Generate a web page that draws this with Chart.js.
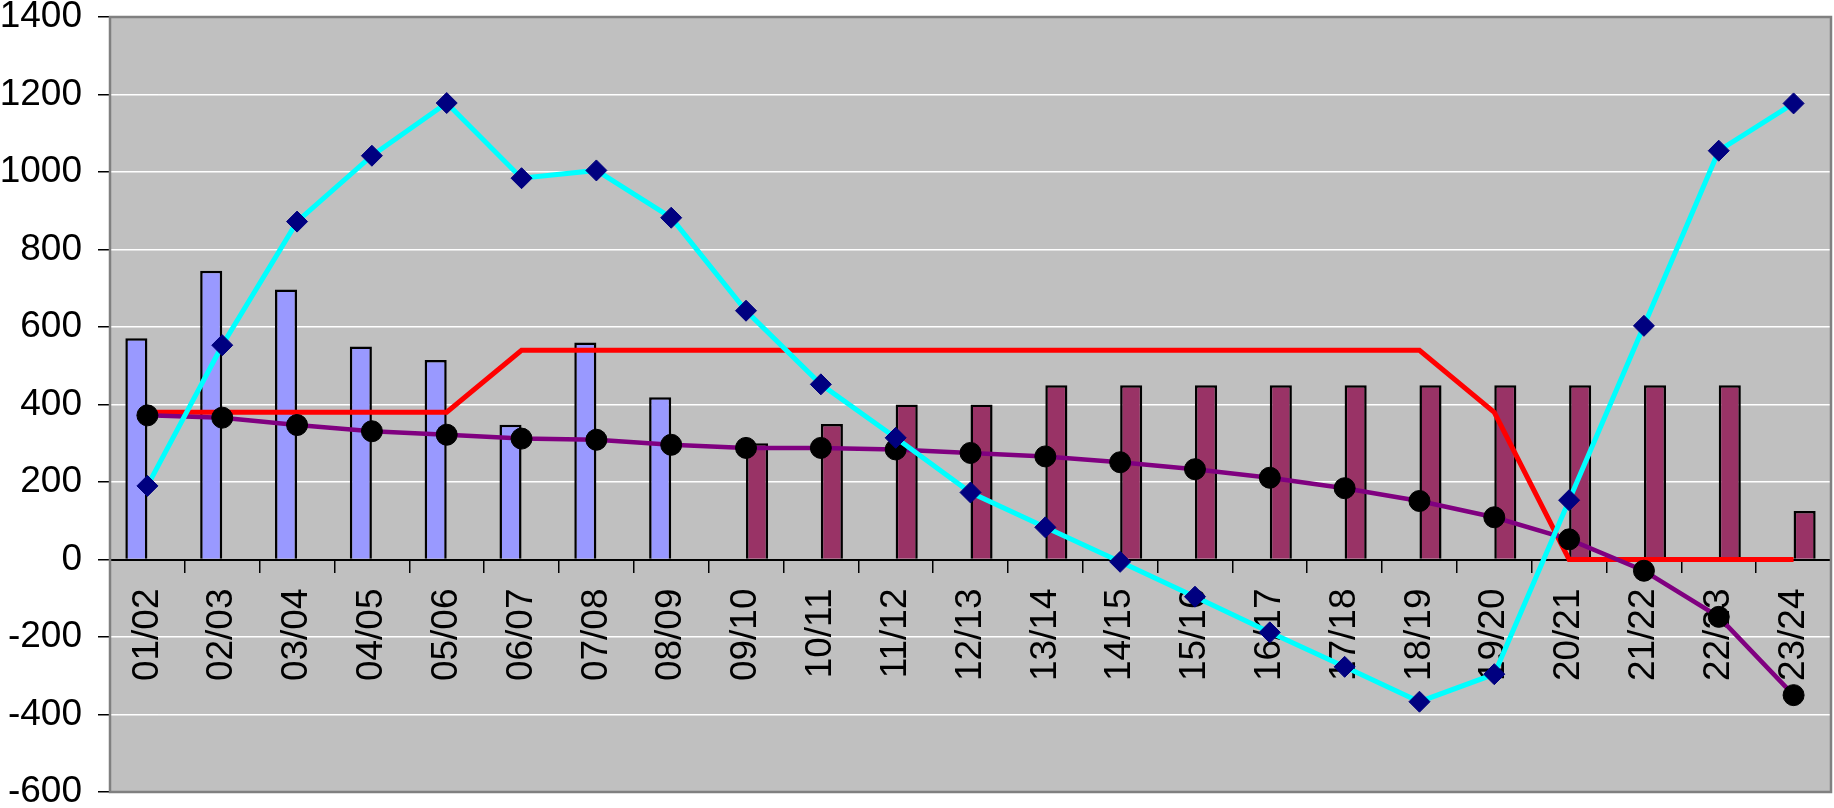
<!DOCTYPE html>
<html>
<head>
<meta charset="utf-8">
<script src="https://cdn.jsdelivr.net/npm/chart.js@4/dist/chart.umd.min.js"></script>
<style>
  html, body { margin: 0; padding: 0; background: #ffffff; overflow: hidden; width: 1834px; height: 808px; }
  #wrap { width: 1834px; height: 808px; overflow: hidden; }
  canvas { display: block; }
</style>
</head>
<body>
<div id="wrap"><canvas id="c" width="1834" height="808"></canvas></div>
<script>
const categories = ['01/02','02/03','03/04','04/05','05/06','06/07','07/08','08/09','09/10','10/11','11/12','12/13','13/14','14/15','15/16','16/17','17/18','18/19','19/20','20/21','21/22','22/23','23/24'];
const blueBars   = [571, 745, 697, 550, 515, 348, 560, 419, null, null, null, null, null, null, null, null, null, null, null, null, null, null, null];
const maroonBars = [null, null, null, null, null, null, null, null, 300, 350, 400, 400, 450, 450, 450, 450, 450, 450, 450, 450, 450, 450, 125];
const redLine    = [380, 380, 380, 380, 380, 540, 540, 540, 540, 540, 540, 540, 540, 540, 540, 540, 540, 540, 380, 0, 0, 0, 0];
const cyanLine   = [190, 553, 872, 1042, 1178, 984, 1004, 882, 642, 452, 314, 173, 83, -6, -96, -188, -277, -367, -296, 153, 603, 1055, 1177];
const purpleLine = [372, 366, 347, 331, 322, 312, 309, 296, 288, 288, 284, 275, 266, 251, 233, 211, 184, 151, 109, 52, -29, -148, -350];
const yMin = -600, yMax = 1400, yStep = 200;

const plotBg = {
  id: 'plotBg',
  beforeDraw(chart) {
    const a = chart.chartArea, ctx = chart.ctx;
    ctx.save();
    ctx.fillStyle = '#C0C0C0';
    ctx.fillRect(a.left, a.top, a.right - a.left, a.bottom - a.top);
    ctx.restore();
  },
  beforeDatasetsDraw(chart) {
    const a = chart.chartArea, ctx = chart.ctx;
    ctx.save();
    ctx.strokeStyle = '#808080';
    ctx.lineWidth = 2.5;
    ctx.strokeRect(a.left, a.top, a.right - a.left, a.bottom - a.top);
    ctx.restore();
  }
};

const fontFam = '"Liberation Sans", Arial, sans-serif';

new Chart(document.getElementById('c'), {
  data: {
    labels: categories,
    datasets: [
      { type: 'line', data: cyanLine, borderColor: '#00FFFF', borderWidth: 5, pointStyle: 'rectRot', pointRadius: 10.5, pointBackgroundColor: '#000080', pointBorderColor: '#000080', pointBorderWidth: 1, tension: 0, order: 1 },
      { type: 'line', data: purpleLine, borderColor: '#800080', borderWidth: 4.5, pointStyle: 'circle', pointRadius: 10.5, pointBackgroundColor: '#000000', pointBorderColor: '#000000', pointBorderWidth: 1, tension: 0, order: 2 },
      { type: 'line', data: redLine, borderColor: '#FF0000', borderWidth: 5, pointRadius: 0, tension: 0, order: 3 },
      { type: 'bar', data: blueBars, backgroundColor: '#9999FF', borderColor: '#000000', borderWidth: 2.5, categoryPercentage: 0.59, barPercentage: 1.0, order: 4 },
      { type: 'bar', data: maroonBars, backgroundColor: '#993366', borderColor: '#000000', borderWidth: 2.5, categoryPercentage: 0.59, barPercentage: 1.0, order: 5 }
    ]
  },
  options: {
    responsive: false,
    animation: false,
    layout: { autoPadding: false, padding: { top: 17, bottom: 16, right: 3, left: 0 } },
    plugins: { legend: { display: false }, tooltip: { enabled: false } },
    scales: {
      x: {
        type: 'category',
        position: { y: 0 },
        offset: true,
        afterFit(scale) { scale.paddingLeft = 0; scale.paddingRight = 0; },
        grid: { offset: true, drawOnChartArea: false, drawTicks: true, tickLength: 12, tickColor: '#000000', lineWidth: 1.5 },
        border: { display: true, color: '#000000', width: 2 },
        ticks: { autoSkip: false, minRotation: 90, maxRotation: 90, padding: 17, color: '#000000', font: { family: fontFam, size: 37 } }
      },
      y: {
        min: yMin, max: yMax,
        afterFit(scale) { scale.width = 110; scale.paddingTop = 0; scale.paddingBottom = 0; },
        grid: {
          color: (ctx) => (ctx.tick && ctx.tick.value === 0) ? '#000000' : '#FFFFFF',
          lineWidth: 1.5,
          drawTicks: true, tickLength: 12, tickColor: '#000000'
        },
        border: { display: true, color: '#555555', width: 2 },
        ticks: { stepSize: yStep, padding: 16, color: '#000000', font: { family: fontFam, size: 37, lineHeight: 1 }, callback: (v) => String(v) }
      }
    }
  },
  plugins: [plotBg]
});
</script>
</body>
</html>
